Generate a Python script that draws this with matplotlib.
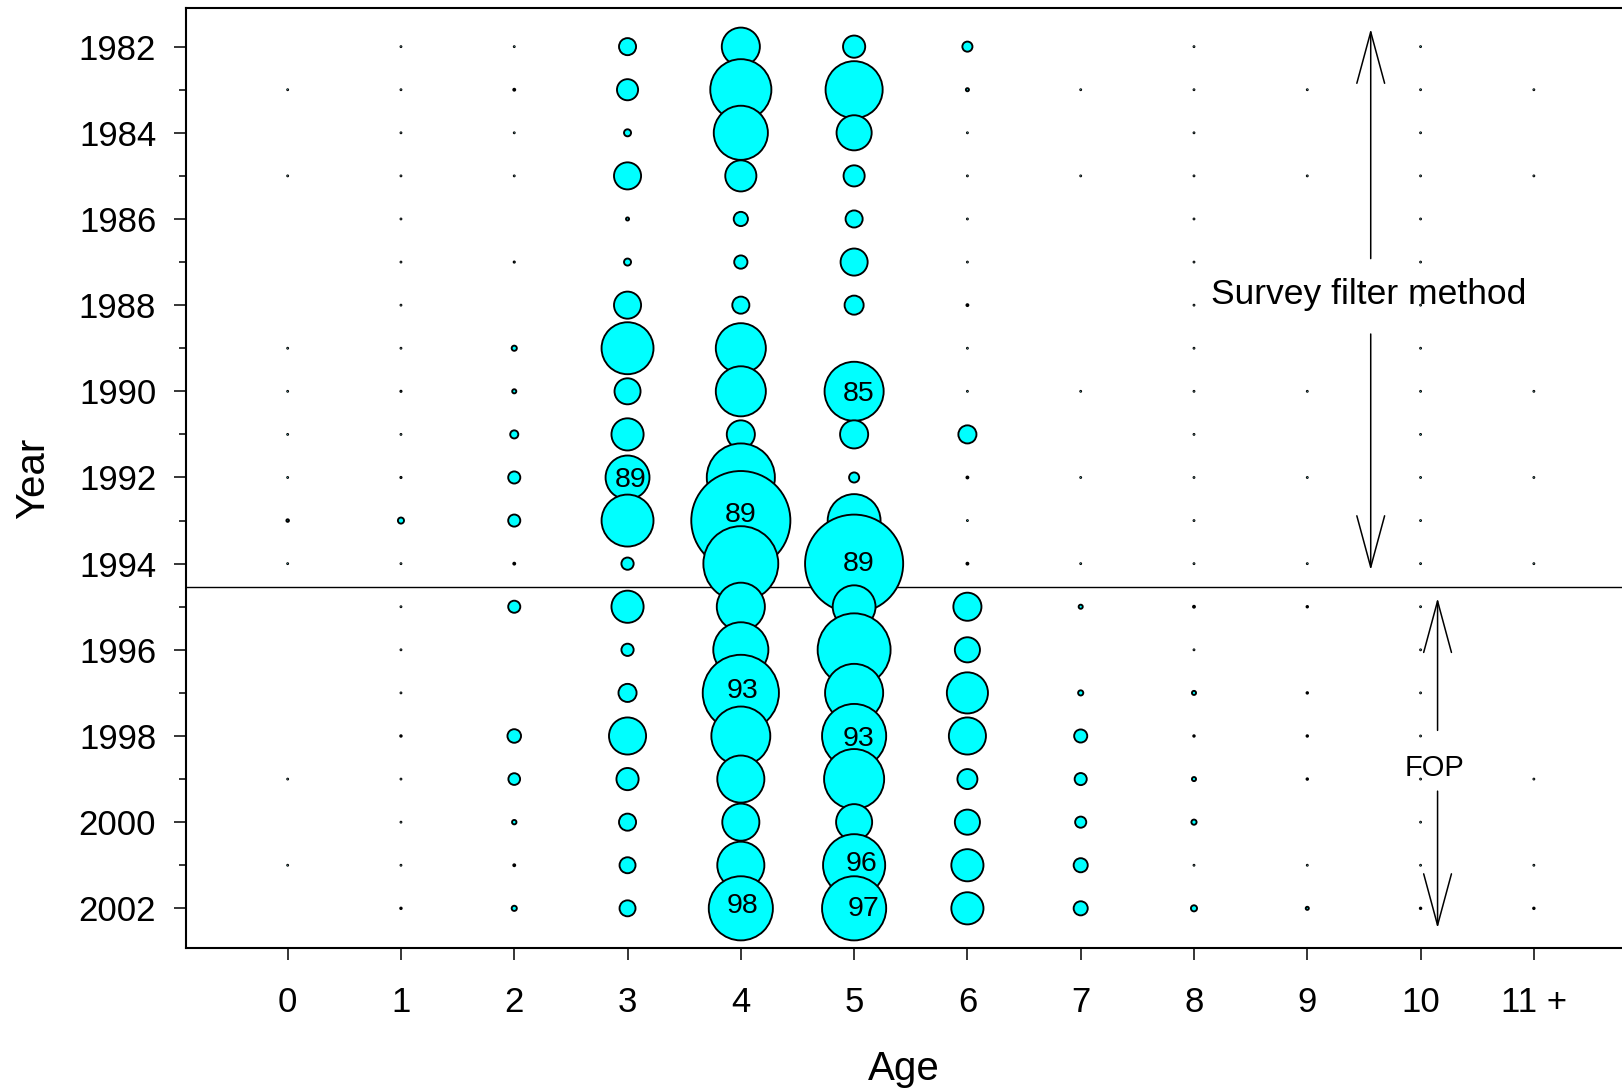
import numpy as np
import matplotlib
matplotlib.use("Agg")
import matplotlib.pyplot as plt

plt.rcParams['font.family'] = ['Liberation Sans', 'DejaVu Sans']

years = list(range(1982, 2003))
age_labels = ['0', '1', '2', '3', '4', '5', '6', '7', '8', '9', '10', '11 +']

# relative catch at age, 1982..2002
age0 = [0, .02, 0, .02, 0, 0, 0, .02, .03, .02, .02, .2, .02, 0, 0, 0, 0, .02, 0, .02, 0]
age1 = [.03, .02, .03, .02, .03, .03, .03, .03, .1, .02, .1, .64, .02, .03, .03, .03, .12, .08, .02, .02, .12]
age2 = [.03, .15, .03, .02, 0, .1, 0, .5, .36, 1.0, 1.96, 1.96, .15, 1.96, 0, 0, 2.4, 1.85, .4, .15, .5]
age3 = [3.6, 5.3, .8, 8.4, .25, .8, 8.4, 29, 7.8, 11.6, 21, 29, 2.0, 11.6, 2.0, 4.0, 15.2, 5.8, 3.6, 3.2, 3.2]
age4 = [16, 39.7, 31.4, 10.9, 2.6, 2.3, 3.6, 27, 27, 9, 49, 102, 59, 25, 32.5, 61, 37, 24, 15.2, 24, 43.6]
age5 = [5.8, 34.8, 13.7, 5.3, 3.6, 8.4, 4.4, 0, 37.2, 9, 1.44, 30, 100, 20, 56, 36, 43.6, 38.4, 14.4, 41, 43.6]
age6 = [1.44, .25, .08, .03, .06, .05, .15, .03, .03, 4.0, .15, .03, .15, 9, 7.3, 18.5, 15.2, 4.8, 7.3, 11.6, 11.6]
age7 = [0, .03, 0, .03, 0, 0, 0, 0, .03, 0, .03, 0, .03, .36, 0, .5, 2.25, 1.96, 1.7, 2.56, 2.56]
age8 = [.03, .03, .03, .03, .03, .03, .03, .03, .03, .03, .03, .03, .03, .15, .03, .36, .12, .36, .5, .04, .64]
age9 = [0, .03, 0, .03, 0, 0, 0, 0, .03, 0, .03, 0, .03, .12, 0, .12, .12, .12, 0, .03, .25]
age10 = [.03, .03, .03, .03, .03, .03, .03, .03, .03, .03, .03, .03, .03, .03, .03, .03, .03, .03, .03, .03, .12]
age11 = [0, .03, 0, .03, 0, 0, 0, 0, .03, 0, .03, 0, .03, 0, 0, 0, 0, .03, 0, .03, .12]

# numbers written inside some bubbles
label_ages = [3, 4, 5, 5, 4, 5, 5, 4, 5]
label_years = [1992, 1993, 1990, 1994, 1997, 1998, 2001, 2002, 2002]
label_text = ['89', '89', '85', '89', '93', '93', '96', '98', '97']
label_nudge = [(2.5, 0), (0, 6.5), (3.5, 0), (3.5, 2), (1.5, 3.5), (3.5, 0), (5, 3), (1.5, 3.5), (6.5, 2)]

split_year = 1994.55

table = np.array([age0, age1, age2, age3, age4, age5, age6, age7, age8, age9, age10, age11])

fig = plt.figure(figsize=(16.22, 10.91), dpi=100)
ax = fig.add_axes([0.1147, 0.1315, 0.8853, 0.8609])

# points drawn year by year so later years sit on top
xs, ys, vs = [], [], []
for j, yr in enumerate(years):
    for i in range(len(age_labels)):
        if table[i, j] > 0:
            xs.append(i)
            ys.append(yr)
            vs.append(table[i, j])
vs = np.array(vs)
edge_px = 1.9
diam_pt = np.clip((10 * np.sqrt(vs) - edge_px) / (100 / 72), 0.7, None)
ax.scatter(xs, ys, s=diam_pt ** 2, c='#00FFFF', edgecolors='black', linewidths=1.35, zorder=3)

for a, yr, t, (dx, dy) in zip(label_ages, label_years, label_text, label_nudge):
    ax.annotate(t, (a, yr), xytext=(dx, dy), textcoords='offset points',
                ha='center', va='center_baseline', fontsize=20.5, zorder=5)

ax.axhline(split_year, color='black', lw=1.0, zorder=2)

arrow = dict(arrowstyle='->,head_length=3.7,head_width=1.0', mutation_scale=10,
             lw=1.1, color='black', shrinkA=0, shrinkB=0)
ax.annotate('', xy=(9.56, 1981.59), xytext=(9.56, 1986.92), arrowprops=arrow)
ax.annotate('', xy=(9.56, 1994.15), xytext=(9.56, 1988.67), arrowprops=arrow)
ax.text(9.54, 1987.67, 'Survey filter method', ha='center', va='center_baseline', fontsize=25.5)

ax.annotate('', xy=(10.15, 1994.8), xytext=(10.15, 1997.87), arrowprops=arrow)
ax.annotate('', xy=(10.15, 2002.46), xytext=(10.15, 1999.28), arrowprops=arrow)
ax.text(10.12, 1998.68, 'FOP', ha='center', va='center_baseline', fontsize=21)

ax.set_xlim(-0.897, 11.778)
ax.set_ylim(2002.91, 1981.11)
ax.set_xticks(range(len(age_labels)))
ax.set_xticklabels(age_labels)
ax.set_yticks(range(1982, 2003, 2))
ax.set_yticks(range(1983, 2003, 2), minor=True)
ax.tick_params(axis='both', which='major', direction='out', length=8.5, width=1.1, labelsize=25)
ax.tick_params(axis='y', which='minor', direction='out', length=5, width=1.1)
ax.tick_params(axis='y', which='major', pad=13)
ax.tick_params(axis='x', which='major', pad=19)

ax.spines['right'].set_visible(False)
for s in ['left', 'top', 'bottom']:
    ax.spines[s].set_linewidth(1.5)

ax.set_xlabel('Age', fontsize=29)
ax.set_ylabel('Year', fontsize=29)
ax.xaxis.set_label_coords(0.5, -0.109)
ax.yaxis.set_label_coords(-0.093, 0.5)

fig.savefig('out.png', dpi=100)
